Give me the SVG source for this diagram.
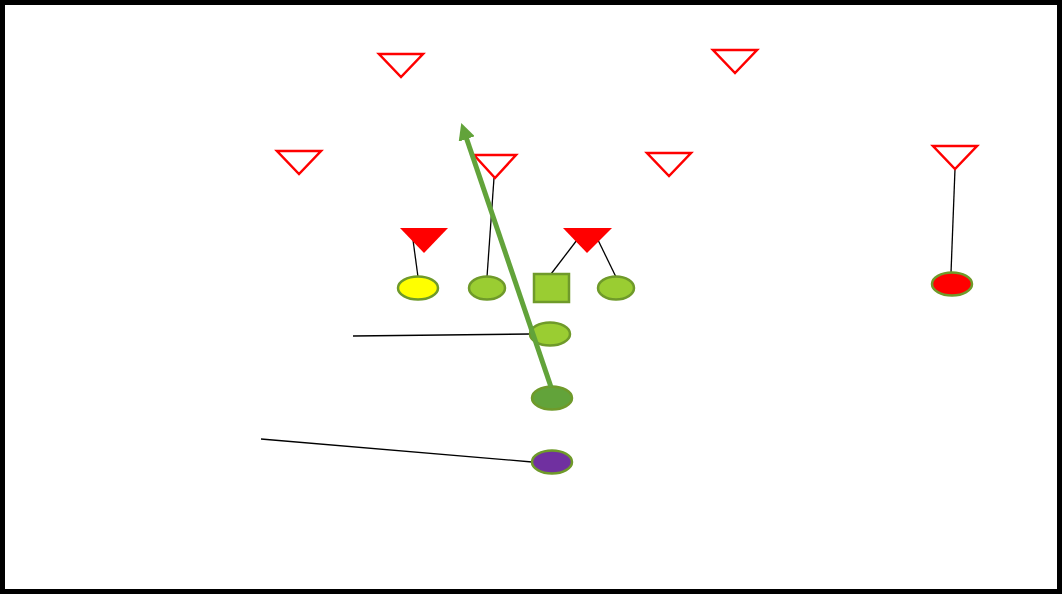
<svg xmlns="http://www.w3.org/2000/svg" width="1062" height="594" viewBox="0 0 1062 594">
<style>
.open{fill:#fff;stroke:#ff0000;stroke-width:2.5;stroke-linejoin:miter}
.solid{fill:#ff0000;stroke:none}
.pl{stroke:#6f9a2a;stroke-width:2.5}
.ln{stroke:#000;stroke-width:1.3;fill:none}
</style>
<defs>
<marker id="ah" viewBox="0 0 10 10" refX="5" refY="5" markerWidth="3.4" markerHeight="3.4" orient="auto" markerUnits="strokeWidth">
<path d="M0,0 L10,5 L0,10 Z" fill="#62a33a"/>
</marker>
</defs>
<rect x="2.5" y="2.5" width="1057" height="589" fill="#fff" stroke="#000" stroke-width="5"/>
<g id="connectors">
<line class="ln" x1="413" y1="240" x2="418" y2="277"/>
<line class="ln" x1="494" y1="178" x2="487" y2="277"/>
<line class="ln" x1="577" y1="240" x2="551" y2="274"/>
<line class="ln" x1="598" y1="240" x2="616" y2="277"/>
<line class="ln" x1="955" y1="169" x2="951" y2="273"/>
<line class="ln" x1="353" y1="336" x2="530" y2="334"/>
<line class="ln" x1="261" y1="439" x2="532" y2="462"/>
</g>
<g id="d1"><polygon class="open" points="379,54 423,54 401,77"/></g>
<g id="d2"><polygon class="open" points="713,50 757,50 735,73"/></g>
<g id="d3"><polygon class="open" points="277,151 321,151 299,174"/></g>
<g id="d4"><polygon class="open" points="474,155 516,155 495,178"/></g>
<g id="d5"><polygon class="open" points="647,153 691,153 669,176"/></g>
<g id="d6"><polygon class="open" points="933,146 977,146 955,169"/></g>
<g id="f1"><polygon class="solid" points="400,228 448,228 424,253"/></g>
<g id="f2"><polygon class="solid" points="563,228 612,228 587,253"/></g>
<g id="o1"><ellipse class="pl" cx="418" cy="288" rx="20" ry="11.5" fill="#ffff00"/></g>
<g id="o2"><ellipse class="pl" cx="487" cy="288" rx="18" ry="11.5" fill="#9acd32"/></g>
<g id="c"><rect class="pl" x="534" y="274" width="35" height="28" fill="#9acd32"/></g>
<g id="o3"><ellipse class="pl" cx="616" cy="288" rx="18" ry="11.5" fill="#9acd32"/></g>
<g id="o4"><ellipse class="pl" cx="952" cy="284" rx="20" ry="11.5" fill="#ff0000"/></g>
<g id="o5"><ellipse class="pl" cx="550" cy="334" rx="20" ry="11.5" fill="#9acd32"/></g>
<g id="o6"><ellipse class="pl" cx="552" cy="398" rx="20" ry="11.5" fill="#62a33a"/></g>
<g id="o7"><ellipse class="pl" cx="552" cy="462" rx="20" ry="11.5" fill="#7030a0"/></g>
<g id="route"><line x1="551" y1="387" x2="464" y2="131" stroke="#62a33a" stroke-width="5" marker-end="url(#ah)"/></g>
</svg>
